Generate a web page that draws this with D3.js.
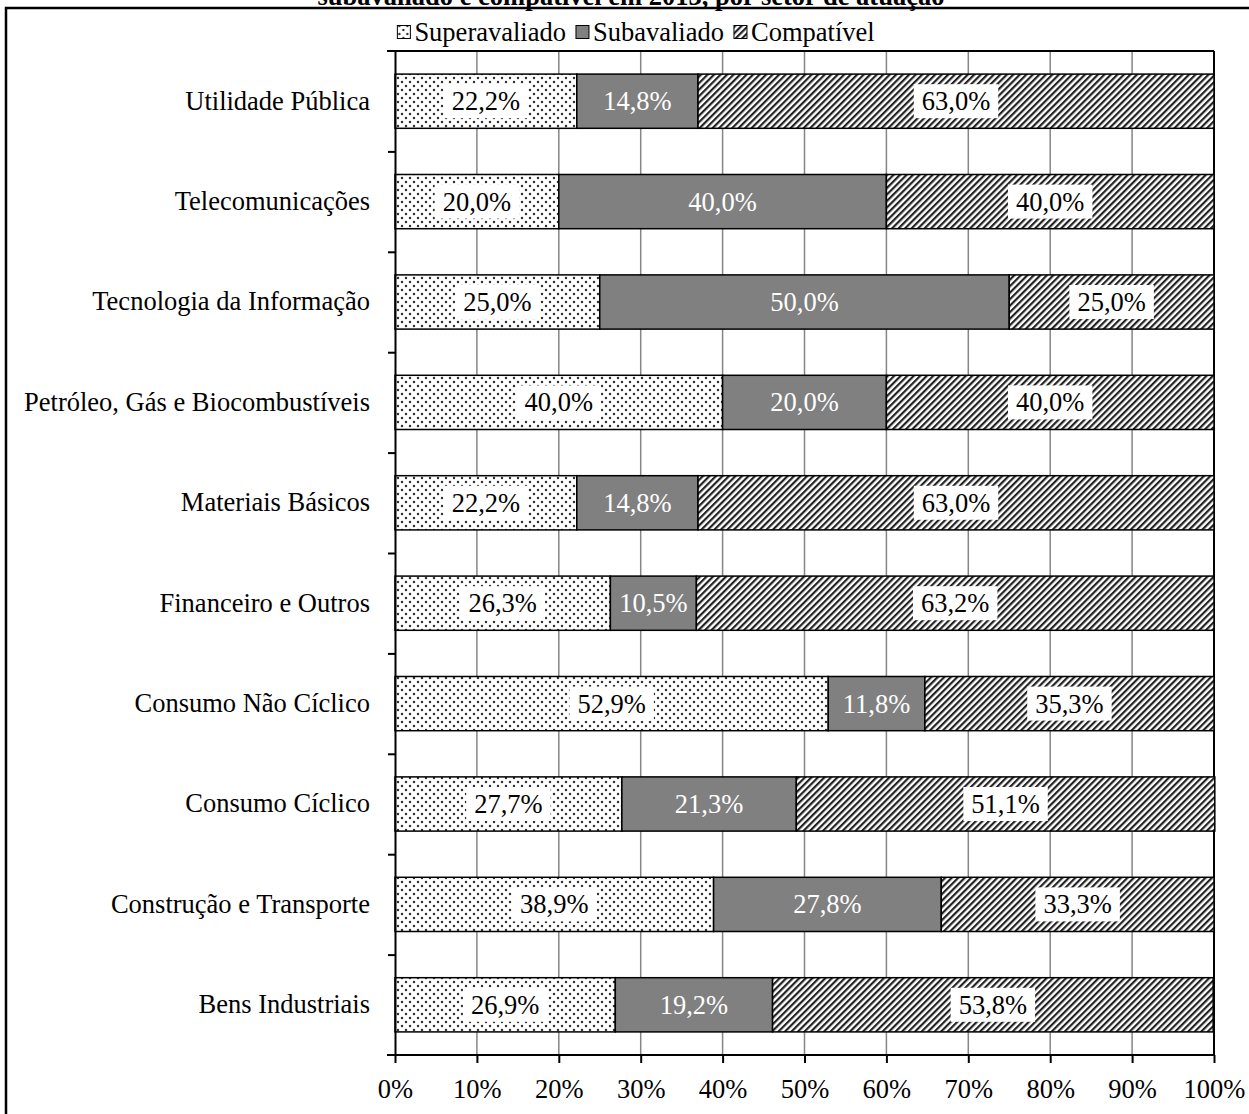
<!DOCTYPE html>
<html>
<head>
<meta charset="utf-8">
<script src="https://cdn.jsdelivr.net/npm/d3@7"></script>
<style>
  html, body { margin: 0; padding: 0; background: #fff; }
  svg { display: block; }
  text { font-family: "Liberation Serif", "Times New Roman", serif; }
</style>
</head>
<body>
<svg id="chart" width="1249" height="1114"></svg>
<script>
// Sectors, listed top to bottom
const categories = [
  "Utilidade Pública",
  "Telecomunicações",
  "Tecnologia da Informação",
  "Petróleo, Gás e Biocombustíveis",
  "Materiais Básicos",
  "Financeiro e Outros",
  "Consumo Não Cíclico",
  "Consumo Cíclico",
  "Construção e Transporte",
  "Bens Industriais"
];
// Share of companies (%) in each valuation class
const superavaliado = [22.2, 20.0, 25.0, 40.0, 22.2, 26.3, 52.9, 27.7, 38.9, 26.9];
const subavaliado   = [14.8, 40.0, 50.0, 20.0, 14.8, 10.5, 11.8, 21.3, 27.8, 19.2];
const compativel    = [63.0, 40.0, 25.0, 40.0, 63.0, 63.2, 35.3, 51.1, 33.3, 53.8];
const seriesNames = ["Superavaliado", "Subavaliado", "Compatível"];
const seriesKeys  = ["sup", "sub", "comp"];
const xTicks = [0, 10, 20, 30, 40, 50, 60, 70, 80, 90, 100];
const titleLine = "subavaliado e compatível em 2013, por setor de atuação";

const rows = categories.map((c, i) => ({
  cat: c, sup: superavaliado[i], sub: subavaliado[i], comp: compativel[i]
}));

const svg = d3.select("#chart");
const FONT = 26.5;
const FAMILY = "'Liberation Serif', 'Times New Roman', serif";

// fills
const defs = svg.append("defs");
const dots = defs.append("pattern").attr("id", "dots")
  .attr("patternUnits", "userSpaceOnUse").attr("width", 8).attr("height", 8);
dots.append("rect").attr("width", 8).attr("height", 8).attr("fill", "#fff");
dots.append("circle").attr("cx", 2).attr("cy", 2).attr("r", 1.25).attr("fill", "#333");
dots.append("circle").attr("cx", 6).attr("cy", 6).attr("r", 1.25).attr("fill", "#333");

const hatch = defs.append("pattern").attr("id", "hatch")
  .attr("patternUnits", "userSpaceOnUse").attr("width", 4.6).attr("height", 10)
  .attr("patternTransform", "rotate(45)");
hatch.append("rect").attr("width", 4.6).attr("height", 10).attr("fill", "#fff");
hatch.append("rect").attr("x", 0).attr("width", 2.2).attr("height", 10).attr("fill", "#222");

const fills = { sup: "url(#dots)", sub: "#808080", comp: "url(#hatch)" };

// outer frame
svg.append("rect").attr("x", 6).attr("y", 8).attr("width", 1300).attr("height", 1200)
  .attr("fill", "none").attr("stroke", "#000").attr("stroke-width", 2.5);

// title (second line, partly above the frame)
svg.append("text").attr("x", 631).attr("y", 5).attr("text-anchor", "middle")
  .attr("font-weight", "bold").attr("font-size", FONT).text(titleLine);

const plotL = 395, plotR = 1214, plotT = 51, plotB = 1055;
const x = d3.scaleLinear().domain([0, 100]).range([plotL, plotR]);
const y = d3.scaleBand().domain(categories).range([plotT, plotB])
  .paddingInner(0.46).paddingOuter(0.23);
const yEdges = d3.scaleLinear().domain([0, categories.length]).range([plotT, plotB]);

// vertical gridlines
svg.append("g").selectAll("line").data(xTicks.filter(t => t > 0 && t < 100)).join("line")
  .attr("x1", d => x(d)).attr("x2", d => x(d)).attr("y1", plotT).attr("y2", plotB)
  .attr("stroke", "#858585").attr("stroke-width", 1.5);

// plot frame: top and right
svg.append("line").attr("x1", plotL - 8).attr("x2", plotR).attr("y1", plotT).attr("y2", plotT)
  .attr("stroke", "#000").attr("stroke-width", 2);
svg.append("line").attr("x1", plotR).attr("x2", plotR).attr("y1", plotT).attr("y2", plotB)
  .attr("stroke", "#000").attr("stroke-width", 2);

// stacked bars
const stack = d3.stack().keys(seriesKeys);
const layers = stack(rows);
const fmt = d3.formatLocale({ decimal: ",", thousands: ".", grouping: [3], currency: ["", ""] }).format(".1f");

const gBars = svg.append("g");
layers.forEach(layer => {
  const key = layer.key;
  gBars.append("g").selectAll("rect").data(layer).join("rect")
    .attr("x", d => x(d[0])).attr("width", d => x(d[1]) - x(d[0]))
    .attr("y", d => y(d.data.cat)).attr("height", y.bandwidth())
    .attr("fill", fills[key]).attr("stroke", "#000").attr("stroke-width", 1.5);
});

// data labels
const gLab = svg.append("g");
layers.forEach(layer => {
  const key = layer.key;
  layer.forEach(d => {
    const cx = (x(d[0]) + x(d[1])) / 2;
    const cy = y(d.data.cat) + y.bandwidth() / 2;
    const g = gLab.append("g");
    const t = g.append("text").attr("x", cx).attr("y", cy)
      .attr("text-anchor", "middle").attr("dominant-baseline", "central")
      .attr("font-size", FONT).attr("fill", key === "sub" ? "#fff" : "#000")
      .text(fmt(d.data[key]) + "%");
    if (key !== "sub") {
      const w = t.node().getComputedTextLength();
      g.insert("rect", "text").attr("x", cx - w / 2 - 8).attr("y", cy - 17)
        .attr("width", w + 16).attr("height", 34).attr("fill", "#fff");
    }
  });
});

// x axis
const xAxis = svg.append("g").attr("transform", `translate(0,${plotB})`)
  .call(d3.axisBottom(x).tickValues(xTicks).tickFormat(d => d + "%").tickSize(8).tickPadding(16).tickSizeOuter(0));
xAxis.select(".domain").remove();
xAxis.selectAll(".tick line").attr("stroke", "#000").attr("stroke-width", 2);
xAxis.selectAll(".tick text").attr("font-size", FONT).attr("fill", "#000")
  .attr("font-family", FAMILY);
svg.append("line").attr("x1", plotL - 8).attr("x2", plotR).attr("y1", plotB).attr("y2", plotB)
  .attr("stroke", "#000").attr("stroke-width", 2);

// y axis: line and band-edge ticks
const yAxis = svg.append("g").attr("transform", `translate(${plotL},0)`)
  .call(d3.axisLeft(yEdges).tickValues(d3.range(1, categories.length)).tickFormat("").tickSize(7).tickSizeOuter(0));
yAxis.select(".domain").attr("stroke", "#000").attr("stroke-width", 2);
yAxis.selectAll(".tick line").attr("stroke", "#000").attr("stroke-width", 2);

// category labels
const yLab = svg.append("g").attr("transform", `translate(${plotL},0)`)
  .call(d3.axisLeft(y).tickSize(0).tickPadding(25));
yLab.select(".domain").remove();
yLab.selectAll(".tick text").attr("font-size", FONT).attr("fill", "#000")
  .attr("font-family", FAMILY);

// legend
const legend = svg.append("g");
let lx = 0;
seriesNames.forEach((name, i) => {
  const g = legend.append("g").attr("transform", `translate(${lx},0)`);
  g.append("rect").attr("x", 0).attr("y", -6.5).attr("width", 13).attr("height", 13)
    .attr("fill", fills[seriesKeys[i]]).attr("stroke", "#000").attr("stroke-width", 1);
  const t = g.append("text").attr("x", 17).attr("y", 0).attr("dominant-baseline", "central")
    .attr("font-size", FONT).text(name);
  lx += 17 + t.node().getComputedTextLength() + 10;
});
const lw = lx - 10;
legend.attr("transform", `translate(${636 - lw / 2},32)`);
</script>
</body>
</html>
